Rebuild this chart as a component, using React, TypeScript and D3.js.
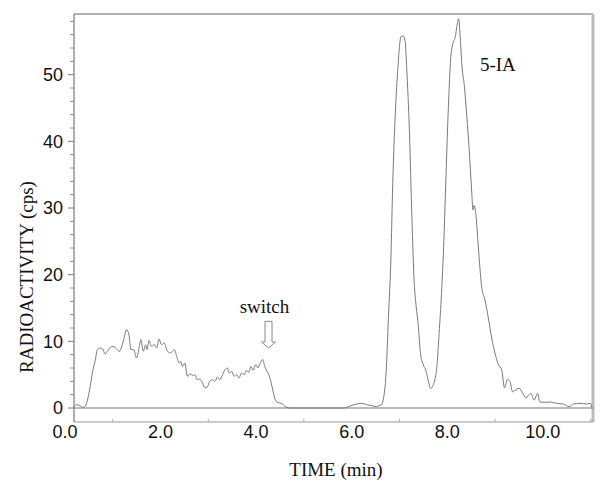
import React from "react";
import * as d3 from "d3";

// chromatogram trace: [time (min), radioactivity (cps)]
const trace: [number, number][] = [
  [0.19, 0.1], [0.21, 0.35], [0.24, 0.5], [0.31, 0.35], [0.38, 0.1], [0.44, 0.5],
  [0.49, 1.75], [0.54, 3.75], [0.58, 5.5], [0.63, 7.0], [0.68, 8.75], [0.73, 9.0],
  [0.79, 8.85], [0.84, 8.1], [0.89, 8.5], [0.94, 9.0], [1.01, 9.25], [1.08, 8.85],
  [1.14, 8.5], [1.19, 9.25], [1.23, 10.25], [1.29, 11.75], [1.34, 11.0], [1.38, 8.75],
  [1.44, 8.75], [1.5, 7.5], [1.55, 9.0], [1.59, 10.25], [1.64, 8.5], [1.69, 9.5],
  [1.72, 8.75], [1.76, 10.15], [1.81, 9.25], [1.87, 9.5], [1.92, 9.0], [1.97, 10.35],
  [2.02, 9.5], [2.08, 9.75], [2.13, 8.75], [2.2, 8.25], [2.25, 8.5], [2.29, 8.75],
  [2.34, 7.75], [2.39, 6.75], [2.42, 7.0], [2.46, 6.25], [2.51, 6.75], [2.56, 4.75],
  [2.62, 5.15], [2.67, 4.85], [2.72, 5.0], [2.77, 4.25], [2.82, 4.35], [2.88, 3.75],
  [2.93, 3.0], [2.98, 3.15], [3.03, 4.0], [3.09, 4.25], [3.14, 4.0], [3.19, 4.65],
  [3.24, 4.25], [3.3, 5.0], [3.35, 5.75], [3.4, 6.0], [3.44, 5.25], [3.49, 5.5],
  [3.54, 4.75], [3.59, 5.0], [3.64, 4.5], [3.7, 5.25], [3.75, 5.0], [3.8, 5.65],
  [3.85, 5.35], [3.89, 6.25], [3.94, 5.65], [3.99, 6.5], [4.04, 6.0], [4.08, 6.65],
  [4.14, 7.25], [4.18, 6.25], [4.23, 5.5], [4.29, 4.5], [4.34, 3.0], [4.39, 1.5],
  [4.44, 0.85], [4.5, 0.75], [4.55, 0.6], [4.6, 0.25], [4.67, 0.05], [4.71, 0.0],
  [5.85, 0.0], [5.89, 0.1], [6.03, 0.45], [6.21, 0.7], [6.31, 0.5], [6.42, 0.35],
  [6.52, 0.2], [6.59, 0.4], [6.62, 0.45], [6.66, 1.2], [6.72, 5.2], [6.77, 13.7],
  [6.82, 22.2], [6.86, 33.7], [6.91, 43.7], [6.96, 50.2], [7.0, 54.2], [7.03, 55.7],
  [7.08, 55.8], [7.12, 55.0], [7.15, 51.2], [7.21, 41.2], [7.26, 28.7], [7.31, 18.7],
  [7.35, 15.2], [7.39, 12.7], [7.44, 8.2], [7.5, 6.45], [7.55, 5.7], [7.6, 4.2],
  [7.65, 2.95], [7.69, 3.2], [7.74, 4.2], [7.79, 6.7], [7.83, 11.2], [7.88, 17.2],
  [7.93, 25.2], [7.98, 36.2], [8.03, 46.2], [8.07, 52.2], [8.12, 54.7], [8.17, 55.7],
  [8.2, 57.2], [8.24, 58.4], [8.27, 55.7], [8.31, 51.2], [8.36, 48.2], [8.41, 43.7],
  [8.46, 38.7], [8.51, 32.7], [8.54, 29.7], [8.56, 30.4], [8.6, 29.0], [8.65, 24.2],
  [8.72, 18.2], [8.79, 16.2], [8.86, 13.5], [8.93, 10.5], [9.0, 8.2], [9.07, 6.5],
  [9.14, 5.7], [9.2, 3.0], [9.26, 4.3], [9.31, 4.0], [9.37, 2.4], [9.44, 2.8],
  [9.51, 2.95], [9.58, 2.2], [9.65, 1.5], [9.7, 1.9], [9.75, 2.2], [9.82, 1.2],
  [9.89, 2.2], [9.94, 0.9], [10.04, 0.85], [10.15, 0.9], [10.29, 0.7], [10.43, 0.6],
  [10.55, 0.2], [10.64, 0.6], [10.78, 0.7], [10.92, 0.6], [11.0, 0.7], [11.02, 0.1],
];

const xTickLabels = [0, 2, 4, 6, 8, 10];
const xMinorTicks = [1, 3, 5, 7, 9, 11];
const yTickLabels = [0, 10, 20, 30, 40, 50];
const yMinorTicks = d3.range(2, 60, 2).filter((v) => v % 10 !== 0);

const xDomain: [number, number] = [0.19, 11.05];
const yDomain: [number, number] = [-2.1, 59.1];

// annotations (data coordinates)
const switchMark = { time: 4.26, label: "switch", textCps: 14.2, topCps: 13.0, tipCps: 9.0 };
const peakLabel = { time: 9.06, cps: 50.6, text: "5-IA" };

const W = 604;
const H = 490;
const plot = { left: 74, right: 593, top: 14, bottom: 422 };

const sans = "'Liberation Sans', Arial, sans-serif";
const serif = "'Liberation Serif', 'Times New Roman', serif";

export default function App() {
  const x = d3.scaleLinear().domain(xDomain).range([plot.left, plot.right]);
  const y = d3.scaleLinear().domain(yDomain).range([plot.bottom, plot.top]);

  const line = d3
    .line<[number, number]>()
    .x((d) => x(d[0]))
    .y((d) => y(d[1]))
    .curve(d3.curveMonotoneX);

  // hollow down arrow for "switch"
  const ax = x(switchMark.time);
  const aTop = y(switchMark.topCps);
  const aTip = y(switchMark.tipCps);
  const headY = aTip - 6;
  const arrow = `M${ax - 3.5},${aTop} L${ax + 3.5},${aTop} L${ax + 3.5},${headY} L${ax + 7},${headY} L${ax},${aTip} L${ax - 7},${headY} L${ax - 3.5},${headY} Z`;

  return (
    <svg
      width={W}
      height={H}
      style={{ position: "absolute", left: 0, top: 0, background: "#fff" }}
    >
      {/* frame */}
      <line x1={plot.left} x2={plot.right} y1={plot.top} y2={plot.top} stroke="#999" strokeWidth={1.5} />
      <line x1={plot.right} x2={plot.right} y1={plot.top} y2={plot.bottom} stroke="#bbb" strokeWidth={3} />
      <line x1={plot.left} x2={plot.right} y1={plot.bottom} y2={plot.bottom} stroke="#999" strokeWidth={1.2} />
      <line x1={plot.left} x2={plot.left} y1={plot.top} y2={plot.bottom} stroke="#777" strokeWidth={1.2} />

      {/* zero line */}
      <line x1={plot.left} x2={plot.right} y1={y(0)} y2={y(0)} stroke="#777" strokeWidth={1.2} />

      {/* y ticks */}
      {yMinorTicks.map((v) => (
        <line key={"ym" + v} x1={plot.left - 4} x2={plot.left} y1={y(v)} y2={y(v)} stroke="#888" />
      ))}
      {yTickLabels.map((v) => (
        <g key={"y" + v}>
          <line x1={plot.left - 6} x2={plot.left} y1={y(v)} y2={y(v)} stroke="#777" />
          <text
            x={plot.left - 11}
            y={y(v)}
            dy="0.36em"
            textAnchor="end"
            fontFamily={sans}
            fontSize={18}
            fill="#111"
          >
            {v}
          </text>
        </g>
      ))}

      {/* x ticks */}
      {xMinorTicks.map((t) => (
        <line key={"xm" + t} x1={x(t)} x2={x(t)} y1={plot.bottom} y2={plot.bottom - 3} stroke="#aaa" />
      ))}
      {xTickLabels.map((t) => (
        <text
          key={"x" + t}
          x={x(t)}
          y={438}
          textAnchor="middle"
          fontFamily={sans}
          fontSize={18}
          fill="#111"
        >
          {t.toFixed(1)}
        </text>
      ))}

      {/* trace */}
      <path d={line(trace) ?? ""} fill="none" stroke="#7a7a7a" strokeWidth={1} />

      {/* annotations */}
      <text
        x={ax - 4}
        y={y(switchMark.textCps)}
        textAnchor="middle"
        fontFamily={serif}
        fontSize={19}
        fill="#111"
      >
        {switchMark.label}
      </text>
      <path d={arrow} fill="#fff" stroke="#888" strokeWidth={1} />
      <text
        x={x(peakLabel.time)}
        y={y(peakLabel.cps)}
        textAnchor="middle"
        fontFamily={serif}
        fontSize={19}
        fill="#111"
      >
        {peakLabel.text}
      </text>

      {/* axis titles */}
      <text x={336} y={476} textAnchor="middle" fontFamily={serif} fontSize={19} fill="#111">
        TIME (min)
      </text>
      <text
        transform="translate(33,277) rotate(-90)"
        textAnchor="middle"
        fontFamily={serif}
        fontSize={19}
        fill="#111"
      >
        RADIOACTIVITY (cps)
      </text>
    </svg>
  );
}
